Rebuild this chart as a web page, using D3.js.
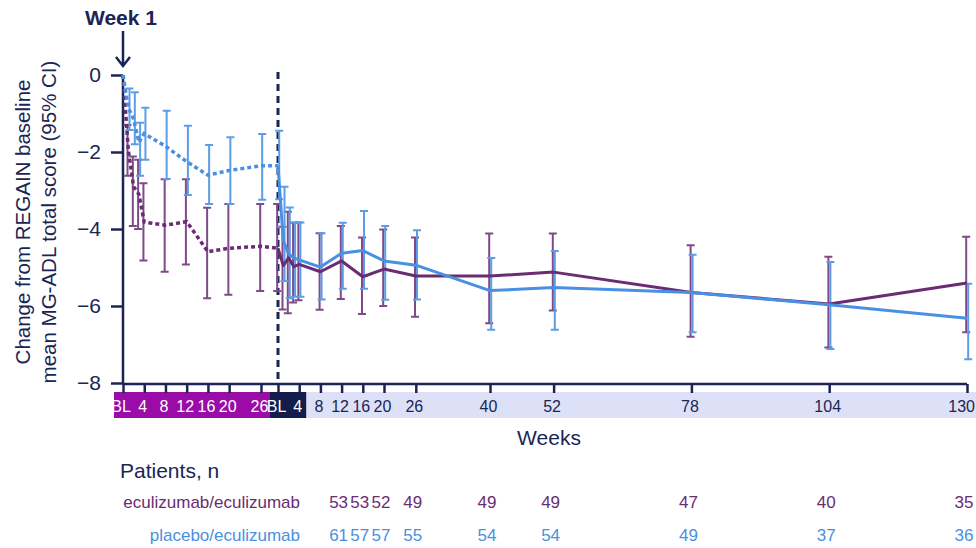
<!DOCTYPE html>
<html lang="en">
<head>
    <meta charset="utf-8">
    <title>MG-ADL change from REGAIN baseline</title>
    <script src="https://d3js.org/d3.v7.min.js"></script>
    <style>
        body { margin: 0; background: #fff; }
        svg { display: block; font-family: Arial, "Liberation Sans", sans-serif; }
    </style>
</head>
<body>
<div id="chart"></div>
<script>
    // REGAIN (double-blind) period, dotted lines
    const regainWeeks = [0, 1, 2, 3, 4, 8, 12, 16, 20, 26];
    const regainEcuMean = [0, -1.95, -2.9, -3.1, -3.82, -3.9, -3.81, -4.59, -4.5, -4.45];
    const regainEcuLo = [null, -1.3, -2.12, -2.2, -2.81, -2.71, -2.71, -3.45, -3.35, -3.35];
    const regainEcuHi = [null, -2.62, -3.92, -4.0, -4.82, -5.11, -4.92, -5.8, -5.71, -5.61];
    const regainPboMean = [0, -0.85, -1.15, -1.75, -1.52, -1.85, -2.25, -2.6, -2.48, -2.36];
    const regainPboLo = [null, -0.35, -0.45, -1.24, -0.85, -0.93, -1.32, -1.82, -1.62, -1.53];
    const regainPboHi = [null, -1.43, -1.8, -2.62, -2.2, -2.7, -3.12, -3.35, -3.35, -3.24];

    // open-label extension, solid lines
    const oleWeeks = [0, 1, 2, 3, 4, 8, 12, 16, 20, 26, 40, 52, 78, 104, 130];
    const oleEcuMean = [-4.5, -4.95, -4.75, -4.98, -4.92, -5.11, -4.83, -5.24, -5.04, -5.22, -5.22, -5.12, -5.65, -5.95, -5.4];
    const oleEcuLo = [-3.35, -3.94, -3.55, -3.84, -3.83, -4.11, -3.92, -4.22, -4.01, -4.22, -4.12, -4.12, -4.42, -4.72, -4.2];
    const oleEcuHi = [-5.61, -6.09, -6.19, -5.91, -5.85, -6.1, -5.82, -6.21, -6.0, -6.28, -6.45, -6.12, -6.8, -7.08, -6.68];
    const olePboMean = [-2.36, -4.3, -4.65, -4.75, -4.8, -4.99, -4.63, -4.56, -4.83, -4.94, -5.6, -5.52, -5.65, -5.97, -6.32];
    const olePboLo = [-1.45, -2.9, -3.44, -3.83, -3.83, -4.11, -3.84, -3.53, -3.92, -4.03, -4.75, -4.57, -4.67, -4.86, -5.42];
    const olePboHi = [-3.23, -5.35, -5.8, -5.76, -5.76, -5.83, -5.55, -5.55, -5.84, -5.83, -6.62, -6.62, -6.68, -7.12, -7.38];

    // axis ticks
    const yTicks = [0, -2, -4, -6, -8];
    const regainTicks = [0, 4, 8, 12, 16, 20, 26];
    const oleTicks = [0, 4, 8, 12, 16, 20, 26, 40, 52, 78, 104, 130];

    // patients at risk
    const nWeeks = [12, 16, 20, 26, 40, 52, 78, 104, 130];
    const nEcu = [53, 53, 52, 49, 49, 49, 47, 40, 35];
    const nPbo = [61, 57, 57, 55, 54, 54, 49, 37, 36];

    const navy = "#1b2553",
        purple = "#6a2c72",
        purpleBar = "#7e4a88",
        blue = "#4a90e2",
        blueBar = "#5d9de8";

    const width = 976, height = 548;

    const svg = d3.select("#chart")
        .append("svg")
        .attr("width", width)
        .attr("height", height);

    // scales: two time axes side by side
    const xR = d3.scaleLinear().domain([0, 26]).range([123, 261]);
    const xO = d3.scaleLinear().domain([0, 130]).range([278, 967]);
    const y = d3.scaleLinear().domain([-8, 0]).range([383, 75]);

    const axisY = 384;

    // week bands under the x axis
    const bandTop = 392, bandH = 26;
    svg.append("rect").attr("y", bandTop)
        .attr("x", xO(0) - 8).attr("width", width - (xO(0) - 8)).attr("height", bandH)
        .attr("fill", "#dde1f7");
    svg.append("rect").attr("y", bandTop)
        .attr("x", xR(0) - 9).attr("width", xO(0) - 8 - (xR(0) - 9)).attr("height", bandH)
        .attr("fill", "#9a0ba7");
    svg.append("rect").attr("y", bandTop)
        .attr("x", xO(0) - 8).attr("width", xO(4) + 7 - (xO(0) - 8)).attr("height", bandH)
        .attr("fill", "#141c4b");

    const lbl = w => w === 0 ? "BL" : w;
    svg.selectAll(".rlab")
        .data(regainTicks)
        .join("text")
        .attr("x", d => d === 0 ? xR(d) - 2 : xR(d) - 1.5)
        .attr("y", bandTop + 20)
        .attr("text-anchor", "middle")
        .attr("font-size", 16)
        .attr("fill", "#fff")
        .text(lbl);
    svg.selectAll(".olab")
        .data(oleTicks)
        .join("text")
        .attr("x", d => d === 130 ? width - 1 : xO(d) - 1.5)
        .attr("y", bandTop + 20)
        .attr("text-anchor", d => d === 130 ? "end" : "middle")
        .attr("font-size", 16)
        .attr("fill", d => d <= 4 ? "#fff" : navy)
        .text(lbl);

    // x axis line and ticks
    svg.append("line")
        .attr("x1", xR(0)).attr("x2", xO(130))
        .attr("y1", axisY).attr("y2", axisY)
        .attr("stroke", navy).attr("stroke-width", 2.5);

    const gxR = svg.append("g")
        .attr("transform", `translate(0,${axisY})`)
        .call(d3.axisBottom(xR).tickValues(regainTicks).tickSize(9).tickFormat(""));
    const gxO = svg.append("g")
        .attr("transform", `translate(0,${axisY})`)
        .call(d3.axisBottom(xO).tickValues(oleTicks).tickSize(9).tickFormat(""));
    [gxR, gxO].forEach(g => {
        g.select(".domain").remove();
        g.selectAll(".tick line").attr("stroke", navy).attr("stroke-width", 2.5);
    });

    // y axis
    const gy = svg.append("g")
        .attr("transform", `translate(${xR(0)},0)`)
        .call(d3.axisLeft(y).tickValues(yTicks).tickSize(12).tickSizeOuter(0).tickPadding(10));
    gy.select(".domain").attr("stroke", navy).attr("stroke-width", 2.5)
        .attr("d", `M0,${y(0)}V${axisY}`);
    gy.selectAll(".tick line").attr("stroke", navy).attr("stroke-width", 2.5);
    gy.selectAll(".tick text")
        .attr("font-size", 21)
        .attr("fill", navy)
        .attr("font-family", "Arial, 'Liberation Sans', sans-serif");

    // y axis title
    const yTitle = svg.append("text")
        .attr("transform", "translate(0,222) rotate(-90)")
        .attr("text-anchor", "middle")
        .attr("font-size", 20.5)
        .attr("fill", navy);
    yTitle.append("tspan").attr("x", 0).attr("y", 30).text("Change from REGAIN baseline");
    yTitle.append("tspan").attr("x", 0).attr("y", 56).text("mean MG-ADL total score (95% CI)");

    // start of extension
    svg.append("line")
        .attr("x1", xO(0)).attr("x2", xO(0))
        .attr("y1", 72).attr("y2", axisY)
        .attr("stroke", navy).attr("stroke-width", 3)
        .attr("stroke-dasharray", "7,5");

    // error bars
    function errorBars(xs, weeks, lo, hi, color, dx) {
        const d = weeks.map((w, i) => ({x: xs(w) + dx, lo: lo[i], hi: hi[i]}))
            .filter(p => p.lo !== null);
        const g = svg.append("g").attr("stroke", color).attr("stroke-width", 2).attr("fill", "none");
        g.selectAll("path")
            .data(d)
            .join("path")
            .attr("d", p => `M${p.x - 4},${y(p.lo)}H${p.x + 4}M${p.x},${y(p.lo)}V${y(p.hi)}M${p.x - 4},${y(p.hi)}H${p.x + 4}`);
    }
    errorBars(xR, regainWeeks, regainEcuLo, regainEcuHi, purpleBar, -0.8);
    errorBars(xO, oleWeeks, oleEcuLo, oleEcuHi, purpleBar, -0.8);
    errorBars(xR, regainWeeks, regainPboLo, regainPboHi, blueBar, 1.2);
    errorBars(xO, oleWeeks, olePboLo, olePboHi, blueBar, 1.2);

    // dotted REGAIN lines, joined to the extension baseline
    const line = d3.line().x(d => d[0]).y(d => y(d[1]));
    function regainPts(mean, oleMean) {
        return regainWeeks.map((w, i) => [xR(w), mean[i]]).concat([[xO(0), oleMean[0]]]);
    }
    svg.append("path")
        .attr("d", line(regainPts(regainEcuMean, oleEcuMean)))
        .attr("fill", "none").attr("stroke", purple).attr("stroke-width", 3.5)
        .attr("stroke-dasharray", "4,3");
    svg.append("path")
        .attr("d", line(regainPts(regainPboMean, olePboMean)))
        .attr("fill", "none").attr("stroke", blue).attr("stroke-width", 3.5)
        .attr("stroke-dasharray", "4,3");

    // solid extension lines
    svg.append("path")
        .attr("d", line(oleWeeks.map((w, i) => [xO(w), oleEcuMean[i]])))
        .attr("fill", "none").attr("stroke", purple).attr("stroke-width", 3)
        .attr("stroke-linejoin", "round");
    svg.append("path")
        .attr("d", line(oleWeeks.map((w, i) => [xO(w), olePboMean[i]])))
        .attr("fill", "none").attr("stroke", blue).attr("stroke-width", 3)
        .attr("stroke-linejoin", "round");

    // week 1 marker
    svg.append("text")
        .attr("x", xR(0) - 2).attr("y", 25)
        .attr("text-anchor", "middle")
        .attr("font-size", 21).attr("font-weight", "bold")
        .attr("fill", navy)
        .text("Week 1");
    svg.append("path")
        .attr("d", `M${xR(0)},31V66M${xR(0) - 7},57L${xR(0)},66L${xR(0) + 7},57`)
        .attr("fill", "none").attr("stroke", navy).attr("stroke-width", 2.5);

    // x axis title
    svg.append("text")
        .attr("x", 549).attr("y", 445)
        .attr("text-anchor", "middle")
        .attr("font-size", 21).attr("fill", navy)
        .text("Weeks");

    // patients at risk table
    svg.append("text")
        .attr("x", 120).attr("y", 478)
        .attr("font-size", 21).attr("fill", navy)
        .text("Patients, n");

    const rows = [
        {name: "eculizumab/eculizumab", n: nEcu, color: purple, y: 508},
        {name: "placebo/eculizumab", n: nPbo, color: blue, y: 541}
    ];
    rows.forEach(r => {
        svg.append("text")
            .attr("x", 300).attr("y", r.y)
            .attr("text-anchor", "end")
            .attr("font-size", 17).attr("fill", r.color)
            .text(r.name);
        svg.selectAll(null)
            .data(nWeeks)
            .join("text")
            .attr("x", (w, i) => xO(w) - 3)
            .attr("y", r.y)
            .attr("text-anchor", "middle")
            .attr("font-size", 17).attr("fill", r.color)
            .text((w, i) => r.n[i]);
    });
</script>
</body>
</html>
